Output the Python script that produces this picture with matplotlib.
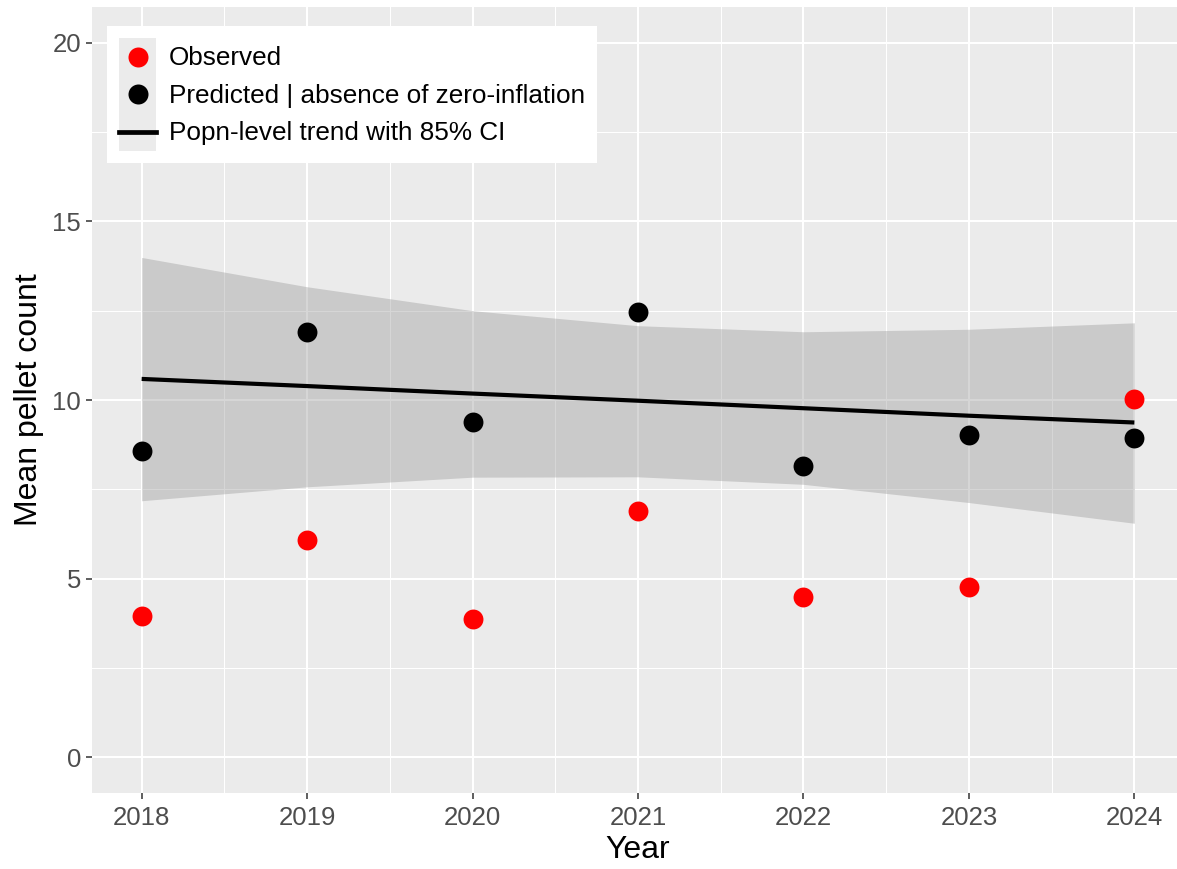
import numpy as np
import matplotlib
matplotlib.use("Agg")
import matplotlib.pyplot as plt
from matplotlib.lines import Line2D
from matplotlib.patches import Patch
from matplotlib.legend_handler import HandlerLine2D

plt.rcParams['font.family'] = ['Liberation Sans', 'DejaVu Sans']

# values
years = [2018, 2019, 2020, 2021, 2022, 2023, 2024]
observed = [3.96, 6.08, 3.87, 6.90, 4.49, 4.77, 10.04]
predicted = [8.58, 11.89, 9.38, 12.47, 8.15, 9.02, 8.95]
trend = [10.59, 10.39, 10.18, 9.98, 9.77, 9.56, 9.37]
ci_upper = [13.99, 13.17, 12.50, 12.08, 11.91, 11.98, 12.16]
ci_lower = [7.18, 7.57, 7.84, 7.85, 7.64, 7.13, 6.55]

y_ticks = [0, 5, 10, 15, 20]
y_minor = [2.5, 7.5, 12.5, 17.5]
x_minor = [2018.5, 2019.5, 2020.5, 2021.5, 2022.5, 2023.5]


class CenteredLine(HandlerLine2D):
    # put legend marker/line in the vertical middle of the key box
    def create_artists(self, legend, orig_handle, xdescent, ydescent,
                       width, height, fontsize, trans):
        return super().create_artists(legend, orig_handle, xdescent,
                                      2 * ydescent, width, height,
                                      fontsize, trans)


fig = plt.figure(figsize=(11.77, 8.69), dpi=100)
# panel runs a little past the right edge, like the cropped original
ax = fig.add_axes([92 / 1177, 76 / 869, 1092 / 1177, 786 / 869])
ax.set_facecolor('#EBEBEB')
for s in ax.spines.values():
    s.set_visible(False)

# grid
ax.set_xticks(years)
ax.set_yticks(y_ticks)
ax.set_xticks(x_minor, minor=True)
ax.set_yticks(y_minor, minor=True)
ax.grid(which='major', color='white', linewidth=1.45)
ax.grid(which='minor', color='white', linewidth=0.75)
ax.set_axisbelow(True)
ax.tick_params(which='minor', length=0)
ax.tick_params(which='major', length=4.3, width=1.1, color='#333333',
               labelsize=18.5, labelcolor='#4D4D4D', pad=3.5)
ax.tick_params(axis='x', which='major', pad=5)

# CI band, trend, points
ax.fill_between(years, ci_lower, ci_upper, color='#999999', alpha=0.4,
                linewidth=0, zorder=2)
ax.plot(years, trend, color='black', linewidth=3, zorder=3, solid_capstyle='butt')
ax.scatter(years, predicted, s=205, color='black', linewidths=0, zorder=4)
ax.scatter(years, observed, s=205, color='red', linewidths=0, zorder=4)

ax.set_xlim(2017.7, 2024.3)
ax.set_ylim(-1, 21)

ax.set_xlabel('Year', fontsize=23, labelpad=3.5)
ax.set_ylabel('Mean pellet count', fontsize=23, labelpad=6)

# legend with grey key column
key_bg = '#EBEBEB'
h_obs = (Patch(facecolor=key_bg, edgecolor='none'),
         Line2D([], [], linestyle='none', marker='o', markersize=14.4,
                markerfacecolor='red', markeredgewidth=0))
h_pred = (Patch(facecolor=key_bg, edgecolor='none'),
          Line2D([], [], linestyle='none', marker='o', markersize=14.4,
                 markerfacecolor='black', markeredgewidth=0))
h_trend = (Patch(facecolor=key_bg, edgecolor='none'),
           Line2D([], [], color='black', linewidth=3.4))
leg = ax.legend([h_obs, h_pred, h_trend],
                ['Observed', 'Predicted | absence of zero-inflation',
                 'Popn-level trend with 85% CI'],
                handler_map={Line2D: CenteredLine()},
                loc='upper left', bbox_to_anchor=(0.014, 0.976),
                borderaxespad=0, fontsize=18.8, frameon=True, fancybox=False,
                handlelength=1.42, handleheight=1.85, handletextpad=0.5,
                labelspacing=0, borderpad=0.45)
leg.get_frame().set_facecolor('white')
leg.get_frame().set_edgecolor('none')
leg.get_frame().set_alpha(1)

fig.savefig('out.png', dpi=100)
